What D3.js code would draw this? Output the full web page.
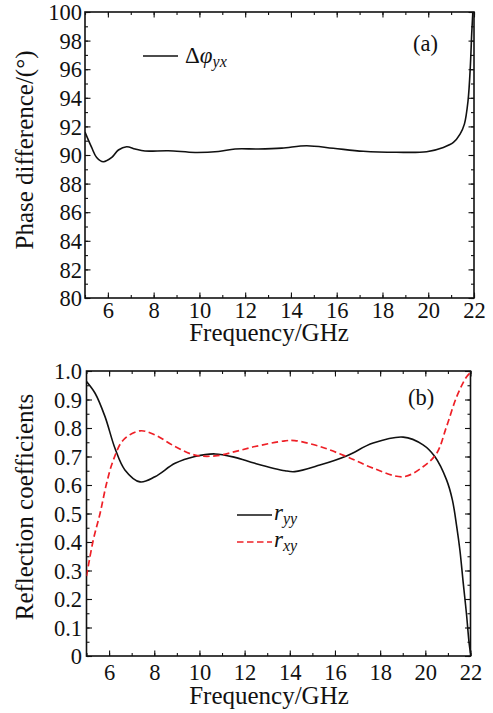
<!DOCTYPE html>
<html>
<head>
<meta charset="utf-8">
<script src="https://cdn.jsdelivr.net/npm/d3@7"></script>
</head>
<body style="margin:0">
<svg id="chart" width="493" height="713"></svg>
<script>
// values
var freqA = [5.0, 5.29, 5.51, 5.8, 6.17, 6.46, 6.82, 7.19, 7.62, 8.64, 9.81, 10.83, 11.56, 12.57, 13.6, 14.69, 15.85, 17.16, 18.62, 19.93, 20.66, 21.1, 21.39, 21.58, 21.74, 21.84, 21.9, 21.95, 22.0];
var phaseA = [91.6, 90.53, 89.83, 89.53, 89.83, 90.35, 90.58, 90.42, 90.28, 90.3, 90.18, 90.25, 90.42, 90.42, 90.48, 90.65, 90.47, 90.26, 90.19, 90.23, 90.53, 90.88, 91.46, 92.16, 93.8, 96.2, 98.5, 100, 101.5];

var freqYY = [5.0, 5.38, 5.82, 6.26, 6.7, 7.37, 8.03, 8.92, 9.8, 10.69, 11.57, 12.46, 13.79, 14.22, 15.33, 16.51, 17.69, 19.02, 19.9, 20.42, 20.94, 21.2, 21.39, 21.53, 21.68, 21.82, 21.94, 22.0];
var rYY = [0.963, 0.922, 0.84, 0.729, 0.653, 0.611, 0.629, 0.676, 0.70, 0.709, 0.697, 0.676, 0.65, 0.647, 0.67, 0.702, 0.747, 0.768, 0.741, 0.70, 0.618, 0.547, 0.454, 0.372, 0.255, 0.149, 0.044, 0.01];

var freqXY = [5.0, 5.3, 5.6, 5.89, 6.19, 6.63, 7.37, 8.03, 8.92, 9.8, 10.69, 11.57, 12.46, 13.79, 14.22, 15.33, 16.51, 17.69, 19.02, 19.9, 20.5, 20.94, 21.39, 21.83, 22.0];
var rXY = [0.28, 0.407, 0.50, 0.606, 0.688, 0.758, 0.79, 0.776, 0.735, 0.705, 0.702, 0.717, 0.735, 0.755, 0.756, 0.735, 0.70, 0.659, 0.629, 0.664, 0.711, 0.805, 0.91, 0.98, 0.994];

var xTicks = [6, 8, 10, 12, 14, 16, 18, 20, 22];
var xMinor = d3.range(5, 22.01, 1);
var yTicksA = d3.range(80, 100.01, 2);
var yMinorA = d3.range(80, 100.01, 1);
var yTicksB = d3.range(0, 1.001, 0.1);
var yMinorB = d3.range(0, 1.001, 0.05);

var FONT = "'Liberation Serif'";

var width = 493, height = 713;
var svg = d3.select("#chart");
svg.append("rect").attr("width", width).attr("height", height).attr("fill", "#fff");

function txt(sel, size) {
  return sel.style("font-family", FONT).attr("font-size", size).attr("fill", "#111");
}

function anchor(sel, how, x0) {
  sel.attr("text-anchor", "start").each(function() {
    var w = this.getComputedTextLength();
    this.setAttribute("x", how === "middle" ? x0 - w / 2 : x0 - w);
  });
  return sel;
}

function panel(opt) {
  var x = d3.scaleLinear().domain([5, 22]).range([opt.left, opt.right]);
  var y = d3.scaleLinear().domain(opt.yDomain).range([opt.bottom, opt.top]);
  var g = svg.append("g");

  var clipId = "clip" + opt.name;
  svg.append("clipPath").attr("id", clipId).append("rect")
    .attr("x", opt.left).attr("y", opt.top)
    .attr("width", opt.right - opt.left).attr("height", opt.bottom - opt.top);

  // minor ticks, all four sides, pointing inward
  g.append("g").attr("transform", "translate(0," + opt.bottom + ")")
    .call(d3.axisBottom(x).tickValues(xMinor).tickSize(-3).tickSizeOuter(0).tickFormat(""));
  g.append("g").attr("transform", "translate(0," + opt.top + ")")
    .call(d3.axisTop(x).tickValues(xMinor).tickSize(-3).tickSizeOuter(0).tickFormat(""));
  g.append("g").attr("transform", "translate(" + opt.left + ",0)")
    .call(d3.axisLeft(y).tickValues(opt.yMinor).tickSize(-3).tickSizeOuter(0).tickFormat(""));
  g.append("g").attr("transform", "translate(" + opt.right + ",0)")
    .call(d3.axisRight(y).tickValues(opt.yMinor).tickSize(-3).tickSizeOuter(0).tickFormat(""));

  // major ticks + labels
  var xb = g.append("g").attr("transform", "translate(0," + opt.bottom + ")")
    .call(d3.axisBottom(x).tickValues(xTicks).tickSize(-5.5).tickSizeOuter(0).tickPadding(opt.xPad).tickFormat(d3.format("d")));
  g.append("g").attr("transform", "translate(0," + opt.top + ")")
    .call(d3.axisTop(x).tickValues(xTicks).tickSize(-5.5).tickSizeOuter(0).tickFormat(""));
  var yl = g.append("g").attr("transform", "translate(" + opt.left + ",0)")
    .call(d3.axisLeft(y).tickValues(opt.yTicks).tickSize(-5.5).tickSizeOuter(0).tickPadding(opt.yPad).tickFormat(opt.yFormat));
  g.append("g").attr("transform", "translate(" + opt.right + ",0)")
    .call(d3.axisRight(y).tickValues(opt.yTicks).tickSize(-5.5).tickSizeOuter(0).tickFormat(""));

  g.selectAll("g").attr("font-family", null).attr("text-anchor", null);
  g.selectAll(".tick line").attr("stroke", "#111").attr("stroke-width", 1.1);
  g.selectAll(".domain").attr("stroke", "none");
  txt(g.selectAll(".tick text"), 22.5);
  yl.selectAll(".tick text").attr("dy", "0.34em");
  anchor(xb.selectAll(".tick text"), "middle", 0);
  anchor(yl.selectAll(".tick text"), "end", -opt.yPad);

  // frame
  g.append("rect").attr("x", opt.left).attr("y", opt.top)
    .attr("width", opt.right - opt.left).attr("height", opt.bottom - opt.top)
    .attr("fill", "none").attr("stroke", "#111").attr("stroke-width", 1.6);

  // axis titles (no letter-spacing: it seemed to knock the text off the serif face)
  var xt = txt(g.append("text"), 25).attr("y", opt.xTitleY).text("Frequency/GHz");
  anchor(xt, "middle", 269);
  var yt = txt(g.append("text"), 25)
    .attr("transform", "translate(33," + opt.yTitleC + ") rotate(-90)")
    .text(opt.yTitle);
  anchor(yt, "middle", 0);

  txt(g.append("text"), 22.5).attr("x", opt.tagX).attr("y", opt.tagY).text(opt.tag);

  return { x: x, y: y, g: g, clip: "url(#" + clipId + ")" };
}

var line = function(p) {
  return d3.line().curve(d3.curveCatmullRom.alpha(0.5))
    .x(function(d) { return p.x(d[0]); })
    .y(function(d) { return p.y(d[1]); });
};

// (a) phase difference
var pa = panel({
  name: "a", left: 85, right: 474, top: 12, bottom: 298,
  yDomain: [80, 100], yTicks: yTicksA, yMinor: yMinorA, yFormat: d3.format("d"),
  xPad: 4.5, yPad: 3, xTitleY: 341, yTitleC: 150,
  yTitle: "Phase difference/(°)", tag: "(a)", tagX: 413, tagY: 51
});
pa.g.append("path")
  .datum(d3.zip(freqA, phaseA))
  .attr("clip-path", pa.clip)
  .attr("d", line(pa))
  .attr("fill", "none").attr("stroke", "#111").attr("stroke-width", 1.6);

var legA = pa.g.append("g");
legA.append("line").attr("x1", 143).attr("x2", 178).attr("y1", 56).attr("y2", 56)
  .attr("stroke", "#111").attr("stroke-width", 1.6);
var ta = txt(legA.append("text"), 23).attr("x", 185).attr("y", 63);
ta.append("tspan").text("Δ");
ta.append("tspan").attr("font-style", "italic").text("φ");
ta.append("tspan").attr("font-style", "italic").attr("font-size", 16).attr("dy", 4).text("yx");

// (b) reflection coefficients
var pb = panel({
  name: "b", left: 86.5, right: 470.5, top: 371, bottom: 656,
  yDomain: [0, 1], yTicks: yTicksB, yMinor: yMinorB,
  yFormat: function(d) { return d === 0 ? "0" : d3.format(".1f")(d); },
  xPad: 8.5, yPad: 4.5, xTitleY: 704, yTitleC: 507,
  yTitle: "Reflection coefficients", tag: "(b)", tagX: 408, tagY: 405
});
pb.g.append("path")
  .datum(d3.zip(freqYY, rYY))
  .attr("clip-path", pb.clip)
  .attr("d", line(pb))
  .attr("fill", "none").attr("stroke", "#111").attr("stroke-width", 1.6);
pb.g.append("path")
  .datum(d3.zip(freqXY, rXY))
  .attr("clip-path", pb.clip)
  .attr("d", line(pb))
  .attr("fill", "none").attr("stroke", "#ee2027").attr("stroke-width", 1.7)
  .attr("stroke-dasharray", "6.5,3.5");

var legB = pb.g.append("g");
var entries = [
  { y: 515, base: 520, sub: "yy", color: "#111", dash: null },
  { y: 542, base: 547, sub: "xy", color: "#ee2027", dash: "6.5,3.5" }
];
entries.forEach(function(e) {
  legB.append("line").attr("x1", 237).attr("x2", 272).attr("y1", e.y).attr("y2", e.y)
    .attr("stroke", e.color).attr("stroke-width", 1.6).attr("stroke-dasharray", e.dash);
  var t = txt(legB.append("text"), 23).attr("x", 274).attr("y", e.base)
    .attr("font-style", "italic");
  t.append("tspan").text("r");
  t.append("tspan").attr("font-size", 16).attr("dy", 4).text(e.sub);
});
</script>
</body>
</html>
